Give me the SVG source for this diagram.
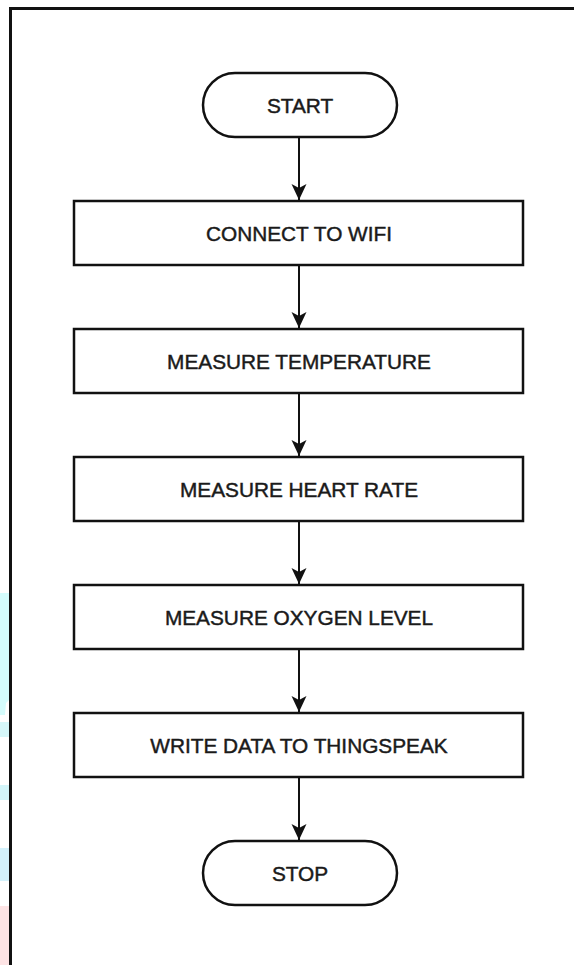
<svg xmlns="http://www.w3.org/2000/svg" width="574" height="965" viewBox="0 0 574 965">
  <defs>
    <style>
      .term { fill: #ffffff; stroke: #111111; stroke-width: 2.5; }
      .box { fill: #ffffff; stroke: #111111; stroke-width: 2.5; }
      .lbl { font-family: "Liberation Sans", Arial, sans-serif; font-size: 20.8px; fill: #1a1a1a; stroke: #1a1a1a; stroke-width: 0.45; text-anchor: middle; }
      .conn { stroke: #111111; stroke-width: 2; fill: none; }
      .frame { stroke: #111111; stroke-width: 3; fill: none; }
    </style>
    <marker id="arrow" markerWidth="18" markerHeight="18" refX="16" refY="9" orient="auto" markerUnits="userSpaceOnUse">
      <path d="M16,9 L0,1.5 L4,9 L0,16.5 Z" fill="#111111"/>
    </marker>
  </defs>
  <rect x="0" y="0" width="574" height="965" fill="#ffffff"/>
  <g id="left-slivers">
    <path d="M0,593 L9,593 L9,700 L6,703 L5,715 L0,715 Z" fill="#d4fcfc"/>
    <rect x="0" y="722" width="9" height="15" fill="#d6f7f9"/>
    <rect x="0" y="785" width="9" height="15" fill="#d3f5f9"/>
    <rect x="0" y="848" width="9" height="33" fill="#d3f1fb"/>
    <rect x="0" y="906" width="9" height="59" fill="#fde3e4"/>
  </g>
  <path class="frame" d="M10.5,965 L10.5,8.5 L574,8.5"/>
  <g id="connectors">
    <line class="conn" x1="299" y1="137" x2="299" y2="200" marker-end="url(#arrow)"/>
    <line class="conn" x1="299" y1="265" x2="299" y2="328" marker-end="url(#arrow)"/>
    <line class="conn" x1="299" y1="393" x2="299" y2="456" marker-end="url(#arrow)"/>
    <line class="conn" x1="299" y1="521" x2="299" y2="584" marker-end="url(#arrow)"/>
    <line class="conn" x1="299" y1="649" x2="299" y2="712" marker-end="url(#arrow)"/>
    <line class="conn" x1="299" y1="777" x2="299" y2="840" marker-end="url(#arrow)"/>
  </g>
  <g id="start">
    <rect class="term" x="203" y="73" width="194" height="64" rx="32" ry="32"/>
    <text class="lbl" x="300" y="112.5">START</text>
  </g>
  <g id="connect-wifi">
    <rect class="box" x="74" y="201" width="449" height="64"/>
    <text class="lbl" x="299" y="240.5">CONNECT TO WIFI</text>
  </g>
  <g id="measure-temperature">
    <rect class="box" x="74" y="329" width="449" height="64"/>
    <text class="lbl" x="299" y="368.5">MEASURE TEMPERATURE</text>
  </g>
  <g id="measure-heart-rate">
    <rect class="box" x="74" y="457" width="449" height="64"/>
    <text class="lbl" x="299" y="496.5">MEASURE HEART RATE</text>
  </g>
  <g id="measure-oxygen">
    <rect class="box" x="74" y="585" width="449" height="64"/>
    <text class="lbl" x="299" y="624.5">MEASURE OXYGEN LEVEL</text>
  </g>
  <g id="write-data">
    <rect class="box" x="74" y="713" width="449" height="64"/>
    <text class="lbl" x="299" y="752.5">WRITE DATA TO THINGSPEAK</text>
  </g>
  <g id="stop">
    <rect class="term" x="203" y="841" width="194" height="64" rx="32" ry="32"/>
    <text class="lbl" x="300" y="880.5">STOP</text>
  </g>
</svg>
